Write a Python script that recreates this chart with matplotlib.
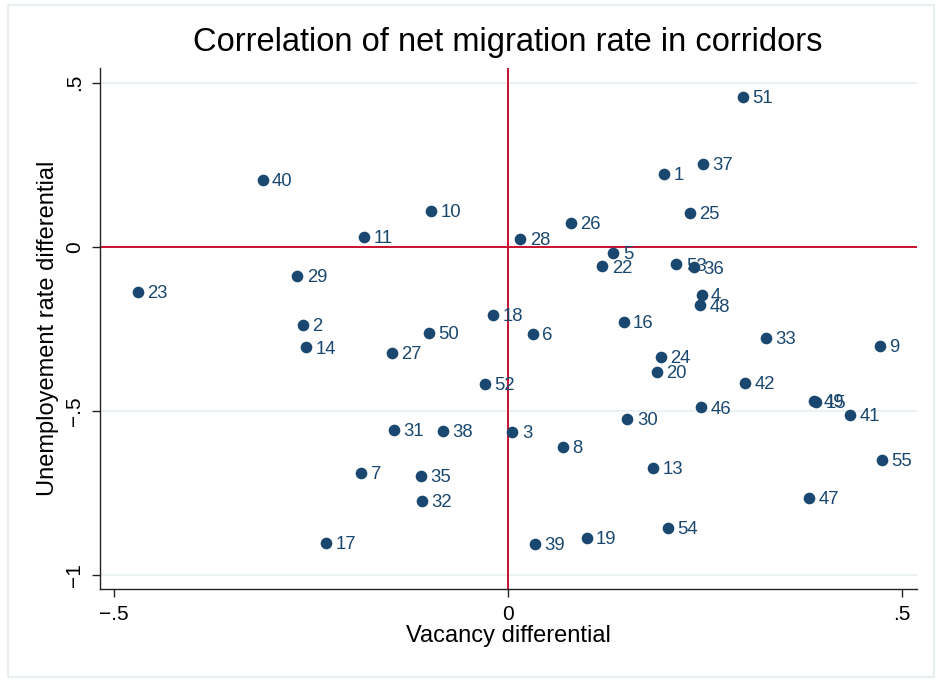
import matplotlib
matplotlib.use("Agg")
import matplotlib.pyplot as plt
from matplotlib.patches import Rectangle

plt.rcParams['font.family'] = ['Liberation Sans', 'DejaVu Sans']

labels = ["40", "10", "11", "29", "23", "2", "18", "50", "14", "27",
          "51", "37", "1", "25", "26", "28", "5", "22", "53", "36",
          "4", "48", "16", "6", "33", "9",
          "52", "31", "38", "3", "7", "35", "32", "17",
          "24", "20", "42", "49", "15", "46", "41", "30", "8", "55",
          "13", "47", "54", "19", "39"]
vacancy = [-0.311, -0.097, -0.182, -0.267, -0.469, -0.260, -0.019, -0.100, -0.256, -0.147,
           0.298, 0.248, 0.198, 0.231, 0.080, 0.016, 0.134, 0.120, 0.214, 0.236,
           0.246, 0.244, 0.147, 0.032, 0.328, 0.472,
           -0.029, -0.144, -0.082, 0.006, -0.186, -0.110, -0.109, -0.231,
           0.194, 0.189, 0.301, 0.389, 0.391, 0.245, 0.435, 0.152, 0.070, 0.475,
           0.184, 0.382, 0.203, 0.100, 0.034]
unemp = [0.203, 0.110, 0.030, -0.088, -0.139, -0.239, -0.208, -0.262, -0.307, -0.324,
         0.457, 0.252, 0.222, 0.104, 0.073, 0.024, -0.020, -0.060, -0.054, -0.063,
         -0.148, -0.179, -0.229, -0.265, -0.279, -0.303,
         -0.419, -0.559, -0.561, -0.565, -0.689, -0.698, -0.774, -0.903,
         -0.337, -0.382, -0.415, -0.471, -0.473, -0.490, -0.512, -0.526, -0.611, -0.651,
         -0.674, -0.767, -0.857, -0.888, -0.906]

xticks = [-0.5, 0, 0.5]
xticklabels = ["\u2212.5", "0", ".5"]
yticks = [-1, -0.5, 0, 0.5]
yticklabels = ["\u22121", "\u2212.5", "0", ".5"]

navy = "#1a476f"
red = "#c8102e"

fig = plt.figure(figsize=(9.41, 6.82), dpi=100)
fig.patch.set_facecolor("white")
fig.patches.append(Rectangle((8/941, 5/682), (934-8)/941, (677-5)/682,
                             transform=fig.transFigure, fill=False,
                             edgecolor="#e4ecee", linewidth=1.2, zorder=0))

ax = fig.add_axes([100/941, (682-589)/682, (917-100)/941, (589-68)/682])
ax.set_xlim(-0.5174, 0.5194)
ax.set_ylim(-1.0436, 0.545)

for yt in yticks:
    ax.axhline(yt, color="#eaf2f3", linewidth=1.5, zorder=1)
ax.axhline(0, color=red, linewidth=1.4, zorder=2)
ax.axvline(0, color=red, linewidth=1.4, zorder=2)

ax.plot(vacancy, unemp, 'o', color=navy, markersize=8.4, markeredgewidth=0, zorder=3)
for lab, x, y in zip(labels, vacancy, unemp):
    ax.annotate(lab, (x, y), xytext=(6.8, -1.2), textcoords="offset points",
                ha="left", va="center", color=navy, fontsize=13.3, zorder=4)

ax.set_xticks(xticks)
ax.set_xticklabels(xticklabels, fontsize=15)
ax.set_yticks(yticks)
ax.set_yticklabels(yticklabels, fontsize=15, rotation=90, va="center")
ax.tick_params(axis="both", direction="out", length=6, width=1, color="#222222", pad=5.5)

for s in ["top", "right"]:
    ax.spines[s].set_visible(False)
for s in ["left", "bottom"]:
    ax.spines[s].set_color("#222222")
    ax.spines[s].set_linewidth(1)

ax.set_xlabel("Vacancy differential", fontsize=17, labelpad=1)
ax.set_ylabel("Unemployement rate differential", fontsize=17, labelpad=4)
fig.text(508/941, 1 - 43/682, "Correlation of net migration rate in corridors",
         ha="center", va="center", fontsize=23.5)

fig.savefig("out.png", dpi=100, facecolor="white")
